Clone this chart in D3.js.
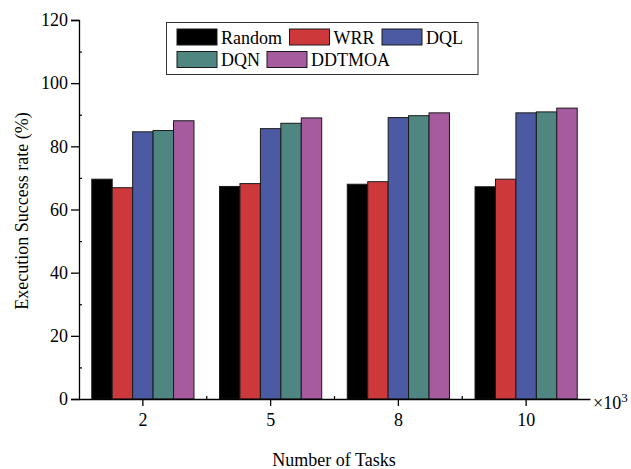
<!DOCTYPE html>
<html>
<head>
<meta charset="utf-8">
<script src="https://cdn.jsdelivr.net/npm/d3@7"></script>
<style>
  html, body { margin: 0; padding: 0; background: #fff; }
  svg { display: block; }
  text { font-family: "Liberation Serif", "Times New Roman", serif; fill: #000; }
</style>
</head>
<body>
<svg id="chart" width="631" height="469"></svg>
<script>
const categories = ["2", "5", "8", "10"];
const seriesNames = ["Random", "WRR", "DQL", "DQN", "DDTMOA"];
const seriesColors = ["#000000", "#cd393b", "#4c5aa3", "#4f8682", "#a55b9d"];
const randomVals = [69.6, 67.3, 68.0, 67.2];
const wrrVals = [66.9, 68.2, 68.8, 69.6];
const dqlVals = [84.6, 85.6, 89.1, 90.6];
const dqnVals = [85.0, 87.3, 89.7, 90.9];
const ddtmoaVals = [88.1, 89.0, 90.6, 92.1];
const yTicks = [0, 20, 40, 60, 80, 100, 120];
const yMinorTicks = [10, 30, 50, 70, 90, 110];
const xTitle = "Number of Tasks";
const yTitle = "Execution Success rate (%)";

const seriesValues = [randomVals, wrrVals, dqlVals, dqnVals, ddtmoaVals];

const svg = d3.select("#chart");
const mLeft = 79, mRight = 590, mTop = 20, mBottom = 399;

const x = d3.scaleBand().domain(categories).range([mLeft, mRight]).padding(0);
const inner = d3.scaleBand().domain(seriesNames)
  .range([x.bandwidth() * 0.1, x.bandwidth() * 0.9]).padding(0);
const y = d3.scaleLinear().domain([0, 120]).range([mBottom, mTop]);

// bars
const groups = svg.append("g").selectAll("g")
  .data(categories).join("g")
  .attr("transform", d => `translate(${x(d)},0)`);

groups.selectAll("rect")
  .data((c, ci) => seriesNames.map((s, si) => ({ s, si, v: seriesValues[si][ci] })))
  .join("rect")
  .attr("x", d => inner(d.s))
  .attr("width", inner.bandwidth())
  .attr("y", d => y(d.v))
  .attr("height", d => y(0) - y(d.v))
  .attr("fill", d => seriesColors[d.si])
  .attr("stroke", "#1a1a1a")
  .attr("stroke-width", 1);

// y axis
const yAxis = svg.append("g").attr("transform", `translate(${mLeft},0)`)
  .call(d3.axisLeft(y).tickValues(yTicks).tickSize(8).tickPadding(3).tickFormat(d3.format("d")));
yAxis.select(".domain").attr("stroke", "#000").attr("stroke-width", 1.3);
yAxis.selectAll(".tick line").attr("stroke", "#000").attr("stroke-width", 1.3);
yAxis.selectAll("text").style("font-size", "18px").style("font-family", "Liberation Serif");
svg.append("g").attr("transform", `translate(${mLeft},0)`)
  .call(d3.axisRight(y).tickValues(yMinorTicks).tickSize(3).tickFormat(""))
  .call(g => g.select(".domain").remove())
  .selectAll("line").attr("stroke", "#000").attr("stroke-width", 1.2);

// x axis
const xAxis = svg.append("g").attr("transform", `translate(0,${mBottom})`)
  .call(d3.axisBottom(x).tickSize(7).tickSizeOuter(0).tickPadding(7));
xAxis.select(".domain").attr("stroke", "#000").attr("stroke-width", 1.3);
xAxis.selectAll(".tick line").attr("stroke", "#000").attr("stroke-width", 1.3);
xAxis.selectAll("text").style("font-size", "18px").style("font-family", "Liberation Serif");
// minor x ticks at group boundaries
const xMinor = categories.slice(1).map(c => x(c));
svg.append("g").selectAll("line").data(xMinor).join("line")
  .attr("x1", d => d).attr("x2", d => d)
  .attr("y1", mBottom).attr("y2", mBottom - 3)
  .attr("stroke", "#000").attr("stroke-width", 1.2);

// x10^3 label
const mult = svg.append("text").attr("x", 593).attr("y", 409)
  .style("font-size", "18px");
mult.append("tspan").text("\u00d710");
mult.append("tspan").attr("dy", -7).style("font-size", "13px").text("3");

// titles
svg.append("text").attr("x", 334).attr("y", 466).attr("text-anchor", "middle")
  .style("font-size", "18px").text(xTitle);
svg.append("text").attr("transform", "translate(28,211) rotate(-90)")
  .attr("text-anchor", "middle").style("font-size", "18px").text(yTitle);

// legend
const lg = svg.append("g");
lg.append("rect").attr("x", 166.5).attr("y", 22.5).attr("width", 311.5).attr("height", 52)
  .attr("fill", "#fff").attr("stroke", "#333").attr("stroke-width", 1);
const legendPos = [
  { sx: 177, sy: 29 }, { sx: 289.5, sy: 29 }, { sx: 382, sy: 29 },
  { sx: 177, sy: 51.5 }, { sx: 267, sy: 51.5 }
];
const items = lg.selectAll("g.item").data(seriesNames).join("g")
  .attr("transform", (d, i) => `translate(${legendPos[i].sx},${legendPos[i].sy})`);
items.append("rect").attr("width", 40).attr("height", 16)
  .attr("fill", (d, i) => seriesColors[i]).attr("stroke", "#1a1a1a").attr("stroke-width", 1);
items.append("text").attr("x", 44).attr("y", 14.5).style("font-size", "18px").text(d => d);
</script>
</body>
</html>
